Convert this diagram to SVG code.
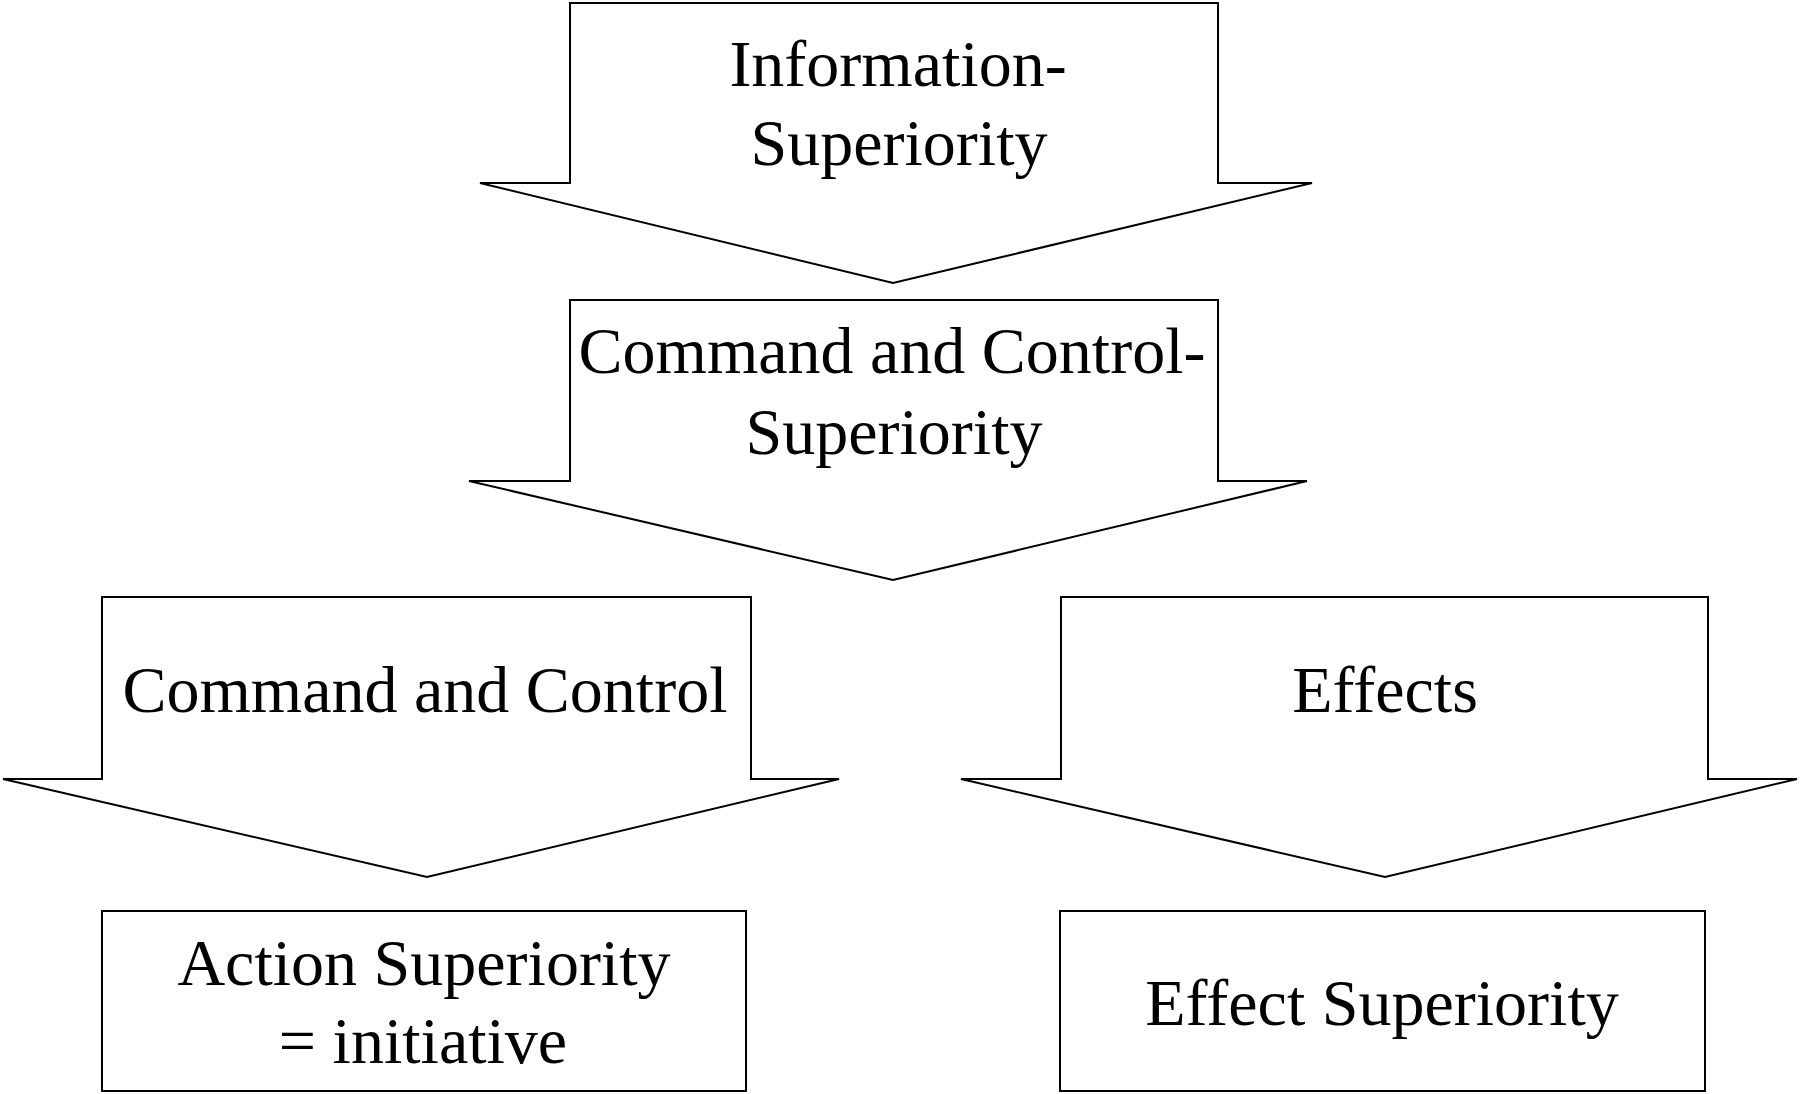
<svg xmlns="http://www.w3.org/2000/svg" width="1800" height="1094" viewBox="0 0 1800 1094">
<style>
.shape{fill:#fff;stroke:#000;stroke-width:2;stroke-linejoin:miter}
.lbl{font-family:"Liberation Serif","Times New Roman",serif;font-size:66px;fill:#000;text-anchor:middle}
</style>
<rect width="1800" height="1094" fill="#fff"/>
<g id="connectors"></g>
<g id="info-superiority">
<path class="shape" d="M570,3 H1218 V183 H1312 L893,283 L480,183 H570 Z"/>
<text class="lbl" x="898" y="86">Information-</text>
<text class="lbl" x="899" y="165">Superiority</text>
</g>
<g id="c2-superiority">
<path class="shape" d="M570,300 H1218 V481 H1307 L893,580 L469,481 H570 Z"/>
<text class="lbl" x="892" y="373">Command and Control-</text>
<text class="lbl" x="894" y="454">Superiority</text>
</g>
<g id="command-control">
<path class="shape" d="M102,597 H751 V779 H839 L427,877 L3,779 H102 Z"/>
<text class="lbl" x="425" y="712">Command and Control</text>
</g>
<g id="effects">
<path class="shape" d="M1061,597 H1708 V779 H1797 L1385,877 L961,779 H1061 Z"/>
<text class="lbl" x="1385" y="712">Effects</text>
</g>
<g id="action-superiority">
<rect class="shape" x="102" y="911" width="644" height="180"/>
<text class="lbl" x="424" y="985">Action Superiority</text>
<text class="lbl" x="423" y="1063">= initiative</text>
</g>
<g id="effect-superiority">
<rect class="shape" x="1060" y="911" width="645" height="180"/>
<text class="lbl" x="1382" y="1025">Effect Superiority</text>
</g>
</svg>
